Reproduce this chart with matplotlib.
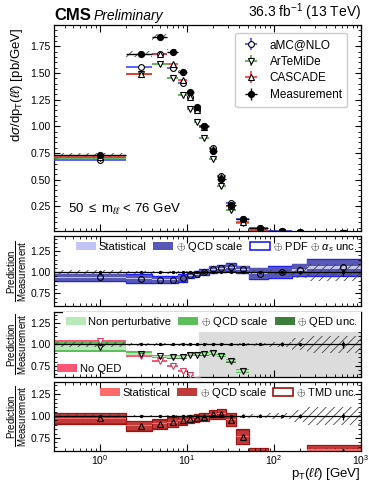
import numpy as np
import matplotlib
matplotlib.use("Agg")
import matplotlib.pyplot as plt
from matplotlib.patches import Patch
from matplotlib.ticker import MultipleLocator, LogLocator, NullFormatter

plt.rcParams['font.family'] = ['Liberation Sans', 'DejaVu Sans']
plt.rcParams['mathtext.fontset'] = 'custom'
plt.rcParams['mathtext.rm'] = 'Liberation Sans'
plt.rcParams['mathtext.it'] = 'Liberation Sans:italic'
plt.rcParams['mathtext.bf'] = 'Liberation Sans:bold'
plt.rcParams['hatch.linewidth'] = 0.6

# pT bins [GeV]
edges = np.array([0, 2, 4, 6, 8, 10, 12, 14, 18, 22, 28, 37, 52, 85, 160, 240, 1000])
centers = 0.5 * (edges[:-1] + edges[1:])

# measurement [pb/GeV] and relative uncertainties
meas = np.array([0.73, 1.68, 1.84, 1.70, 1.51, 1.32, 1.18, 1.00, 0.77, 0.51, 0.265, 0.13,
                 0.045, 0.015, 0.007, 0.0012])
meas_stat = np.array([0.003, 0.003, 0.003, 0.003, 0.003, 0.003, 0.003, 0.003, 0.003, 0.004,
                      0.005, 0.006, 0.008, 0.012, 0.02, 0.04])
meas_syst = np.array([0.025, 0.015, 0.015, 0.015, 0.012, 0.012, 0.012, 0.012, 0.012, 0.012,
                      0.014, 0.018, 0.022, 0.03, 0.07, 0.10])

# aMC@NLO / measurement
amc_ratio = np.array([0.94, 0.925, 0.913, 0.913, 0.93, 0.965, 0.975, 1.0, 1.035, 1.045, 1.06,
                      1.035, 0.985, 1.0, 1.025, 1.06])
amc_stat = np.array([0.004] * 12 + [0.006, 0.008, 0.012, 0.02])
amc_scale = np.array([0.04, 0.04, 0.035, 0.035, 0.035, 0.03, 0.03, 0.03, 0.035, 0.035, 0.04,
                      0.04, 0.06, 0.065, 0.07, 0.09])
amc_pdf = np.array([0.045, 0.05, 0.045, 0.045, 0.045, 0.035, 0.035, 0.035, 0.04, 0.04, 0.045,
                    0.045, 0.065, 0.07, 0.075, 0.10])

# ArTeMiDe / measurement
art_ratio = np.array([0.97, 0.89, 0.86, 0.855, 0.855, 0.88, 0.88, 0.89, 0.90, 0.87, 0.81, 0.69,
                      0.50, 0.42, 0.40, 0.40])
art_np = np.array([0.03, 0.012, 0.01, 0.008, 0.008, 0.008, 0.008, 0.008, 0.008, 0.008, 0.008,
                   0.01, 0.01, 0.01, 0.01, 0.01])
art_qcd = np.array([0.055, 0.03, 0.02, 0.018, 0.018, 0.018, 0.018, 0.018, 0.018, 0.02, 0.02,
                    0.02, 0.03, 0.03, 0.03, 0.03])
art_qed = np.array([0.06, 0.033, 0.022, 0.02, 0.02, 0.02, 0.02, 0.02, 0.02, 0.022, 0.022,
                    0.022, 0.032, 0.032, 0.032, 0.032])
art_noqed = np.array([1.04, 0.86, 0.805, 0.75, 0.69, 0.64, 0.59])
art_valid_max = 14

# CASCADE / measurement
cas_ratio = np.array([0.975, 0.89, 0.91, 0.93, 0.95, 0.965, 0.98, 0.99, 1.02, 1.025, 0.96,
                      0.765, 0.57, 0.45, 0.50, 0.59])
cas_stat = np.array([0.005] * 12 + [0.01, 0.015, 0.02, 0.03])
cas_scale = np.array([0.06, 0.055, 0.05, 0.05, 0.045, 0.045, 0.045, 0.045, 0.05, 0.055, 0.075,
                      0.08, 0.06, 0.06, 0.06, 0.075])
cas_tmd = np.array([0.064, 0.059, 0.054, 0.054, 0.049, 0.049, 0.049, 0.049, 0.054, 0.059, 0.079,
                    0.084, 0.064, 0.064, 0.064, 0.079])

XMIN, XMAX = 0.3, 1000
lo = np.maximum(edges[:-1], XMIN)
hi = edges[1:]
width = hi - lo
xerr = [centers - lo, hi - centers]

c_amc, c_art, c_cas = '#3333ff', '#33a033', '#ff2222'


def boxes(ax, c, h, n=None, **kw):
    n = len(c) if n is None else n
    ax.bar(lo[:n], 2 * np.asarray(h)[:n], width=width[:n], bottom=(np.asarray(c) - np.asarray(h))[:n],
           align='edge', **kw)


def style(ax, ymaj, ymin_):
    ax.set_xscale('log')
    ax.set_xlim(XMIN, XMAX)
    ax.xaxis.set_major_locator(LogLocator(base=10, numticks=10))
    ax.xaxis.set_minor_locator(LogLocator(base=10, subs=np.arange(2, 10), numticks=20))
    ax.xaxis.set_minor_formatter(NullFormatter())
    ax.yaxis.set_major_locator(MultipleLocator(ymaj))
    ax.yaxis.set_minor_locator(MultipleLocator(ymin_))
    ax.tick_params(which='both', direction='in', top=True, right=True, labelsize=7.5, pad=2.5)
    ax.tick_params(which='major', axis='x', length=5)
    ax.tick_params(which='minor', axis='x', length=2.5)
    ax.tick_params(which='major', axis='y', length=4)
    ax.tick_params(which='minor', axis='y', length=2)
    for s in ax.spines.values():
        s.set_linewidth(0.9)


fig = plt.figure(figsize=(3.69, 4.83), dpi=100)
ax0 = fig.add_axes([0.1463, 0.522, 0.832, 0.426])
ax1 = fig.add_axes([0.1463, 0.3665, 0.832, 0.1449])
ax2 = fig.add_axes([0.1463, 0.2195, 0.832, 0.1346])
ax3 = fig.add_axes([0.1463, 0.0663, 0.832, 0.1428])

# ---- top panel ----
style(ax0, 0.25, 0.05)
ax0.set_ylim(0.02, 1.95)
boxes(ax0, meas, meas * meas_syst, facecolor='none', edgecolor='#444444', hatch='////',
      linewidth=0, zorder=2)
for ratio, col, mk, lab in [(amc_ratio, c_amc, 'o', 'aMC@NLO'),
                            (art_ratio, c_art, 'v', 'ArTeMiDe'),
                            (cas_ratio, c_cas, '^', 'CASCADE')]:
    pred = meas * ratio
    ax0.errorbar(centers, pred, xerr=xerr, yerr=pred * 0.01, fmt=mk, color=col, mfc='white',
                 mec='black', ms=4.2, mew=0.8, elinewidth=1.1, capsize=0, label=lab, zorder=3)
ax0.errorbar(centers, meas, xerr=xerr, yerr=meas * meas_stat, fmt='o', color='black',
             ms=4.2, elinewidth=1.0, capsize=0, label='Measurement', zorder=4)
ax0.xaxis.set_ticklabels([])
ax0.yaxis.set_major_formatter(plt.FormatStrFormatter('%.2f'))
ax0.set_yticks([0.25, 0.5, 0.75, 1.0, 1.25, 1.5, 1.75])
ax0.set_ylabel(r'd$\sigma$/dp$_{\rm T}$($\ell\ell$) [pb/GeV]', fontsize=9.5, loc='top')
ax0.yaxis.set_label_coords(-0.095, 0.99)
leg = ax0.legend(loc='upper right', fontsize=8.5, frameon=True, edgecolor='#cccccc',
                 framealpha=1, handlelength=1.6, handletextpad=0.8, labelspacing=0.4,
                 borderpad=0.5, bbox_to_anchor=(0.975, 0.99))
ax0.text(0.045, 0.065, r'50 $\leq$ m$_{\ell\ell}$ < 76 GeV', transform=ax0.transAxes,
         fontsize=9.5, ha='left', va='bottom')
ax0.text(0.0, 1.012, 'CMS', transform=ax0.transAxes, fontsize=12, fontweight='bold',
         ha='left', va='bottom')
ax0.text(0.128, 1.012, 'Preliminary', transform=ax0.transAxes, fontsize=10, style='italic',
         ha='left', va='bottom')
ax0.text(1.0, 1.012, r'36.3 fb$^{-1}$ (13 TeV)', transform=ax0.transAxes, fontsize=10,
         ha='right', va='bottom')


def meas_ratio(ax):
    boxes(ax, np.ones(len(meas)), meas_syst, facecolor='none', edgecolor='#444444',
          hatch='////', linewidth=0, zorder=3)
    ax.axhline(1.0, color='black', lw=0.9, zorder=4)
    ax.errorbar(centers, np.ones(len(meas)), yerr=meas_stat, fmt='o', color='black', ms=1.4,
                elinewidth=0.9, capsize=0, zorder=4)


def ratio_label(ax):
    ax.text(-0.118, 0.5, r'$\dfrac{\mathrm{Prediction}}{\mathrm{Measurement}}$',
            transform=ax.transAxes, rotation=90, ha='center', va='center', fontsize=7)


# ---- aMC@NLO ratio ----
style(ax1, 0.25, 0.05)
ax1.set_ylim(0.6, 1.43)
boxes(ax1, amc_ratio, amc_pdf, facecolor='#5757b8', edgecolor='#1f1fff', linewidth=1.0, zorder=1)
boxes(ax1, amc_ratio, amc_scale, facecolor='#5757b8', linewidth=0, zorder=1.5)
boxes(ax1, amc_ratio, amc_stat, facecolor='#c3c3f5', linewidth=0, zorder=2)
meas_ratio(ax1)
ax1.plot(centers, amc_ratio, 'o', mfc='none', mec='black', ms=4.2, mew=0.8, zorder=5)
ax1.xaxis.set_ticklabels([])
ax1.yaxis.set_major_formatter(plt.FormatStrFormatter('%.2f'))
ax1.set_yticks([0.75, 1.0, 1.25])
ratio_label(ax1)
h1 = [Patch(facecolor='#c3c3f5', edgecolor='none'),
      Patch(facecolor='#5757b8', edgecolor='none'),
      Patch(facecolor='white', edgecolor='#1f1fff', linewidth=1.2)]
ax1.legend(h1, ['Statistical', r'$\oplus$ QCD scale', r'$\oplus$ PDF $\oplus$ $\alpha_{s}$ unc.'],
           loc='upper right', ncol=3, fontsize=8, frameon=False, handlelength=1.8,
           handleheight=0.75, handletextpad=0.25, columnspacing=0.6, borderaxespad=0.15,
           borderpad=0.2)

# ---- ArTeMiDe ratio ----
style(ax2, 0.25, 0.05)
ax2.set_ylim(0.62, 1.38)
ax2.axvspan(art_valid_max, XMAX, color='#dcdcdc', lw=0, zorder=0)
n_art = 12
boxes(ax2, art_ratio, art_qed, n_art, facecolor='#3b7f3b', linewidth=0, zorder=1)
boxes(ax2, art_ratio, art_qcd, n_art, facecolor='#5cbf5c', linewidth=0, zorder=1.5)
boxes(ax2, art_ratio, art_np, n_art, facecolor='#b9e8b9', linewidth=0, zorder=2)
n_nq = len(art_noqed)
boxes(ax2, art_noqed, np.full(n_nq, 0.008), n_nq, facecolor='#ff5577', linewidth=0, zorder=2)
ax2.plot(centers[:n_nq], art_noqed, 'v', mfc='white', mec='#d04060', ms=4.2, mew=0.8, zorder=5)
meas_ratio(ax2)
ax2.plot(centers[:n_art], art_ratio[:n_art], 'v', mfc='none', mec='black', ms=4.2, mew=0.8,
         zorder=5)
ax2.xaxis.set_ticklabels([])
ax2.yaxis.set_major_formatter(plt.FormatStrFormatter('%.2f'))
ax2.set_yticks([0.75, 1.0, 1.25])
ratio_label(ax2)
h2 = [Patch(facecolor='#b9e8b9', edgecolor='none'),
      Patch(facecolor='#5cbf5c', edgecolor='none'),
      Patch(facecolor='#3b7f3b', edgecolor='none')]
lg2 = ax2.legend(h2, ['Non perturbative', r'$\oplus$ QCD scale', r'$\oplus$ QED unc.'],
                 loc='upper right', ncol=3, fontsize=8, frameon=True, facecolor='white',
                 edgecolor='none', framealpha=1, fancybox=False, handlelength=1.8,
                 handleheight=0.75, handletextpad=0.25, columnspacing=0.6, borderaxespad=0.0,
                 borderpad=0.25)
lg2.set_zorder(10)
ax2.add_artist(lg2)
ax2.legend([Patch(facecolor='#ff5577', edgecolor='none')], ['No QED'], loc='lower left',
           fontsize=8, frameon=False, handlelength=1.8, handleheight=0.75, handletextpad=0.25,
           borderaxespad=0.1, borderpad=0.2)

# ---- CASCADE ratio ----
style(ax3, 0.25, 0.05)
ax3.tick_params(axis='x', which='both', pad=1.5)
ax3.set_ylim(0.6, 1.39)
boxes(ax3, cas_ratio, cas_tmd, facecolor='white', edgecolor='#a01010', linewidth=0.9, zorder=1)
boxes(ax3, cas_ratio, cas_scale, facecolor='#c03a3a', edgecolor='#a01010', linewidth=0.6,
      zorder=1.5)
boxes(ax3, cas_ratio, cas_stat, facecolor='#ff6b6b', linewidth=0, zorder=2)
meas_ratio(ax3)
ax3.plot(centers, cas_ratio, '^', mfc='none', mec='black', ms=4.2, mew=0.8, zorder=5)
ax3.yaxis.set_major_formatter(plt.FormatStrFormatter('%.2f'))
ax3.set_yticks([0.75, 1.0, 1.25])
ratio_label(ax3)
h3 = [Patch(facecolor='#ff6b6b', edgecolor='none'),
      Patch(facecolor='#c03a3a', edgecolor='none'),
      Patch(facecolor='white', edgecolor='#a01010', linewidth=1.2)]
ax3.legend(h3, ['Statistical', r'$\oplus$ QCD scale', r'$\oplus$ TMD unc.'],
           loc='upper right', ncol=3, fontsize=8, frameon=False, handlelength=1.8,
           handleheight=0.75, handletextpad=0.25, columnspacing=0.6, borderaxespad=0.15,
           borderpad=0.2)
ax3.text(1.0, -0.215, r'p$_{\rm T}$($\ell\ell$) [GeV]', transform=ax3.transAxes, fontsize=9.5,
         ha='right', va='top')

fig.savefig('out.png', dpi=100)
